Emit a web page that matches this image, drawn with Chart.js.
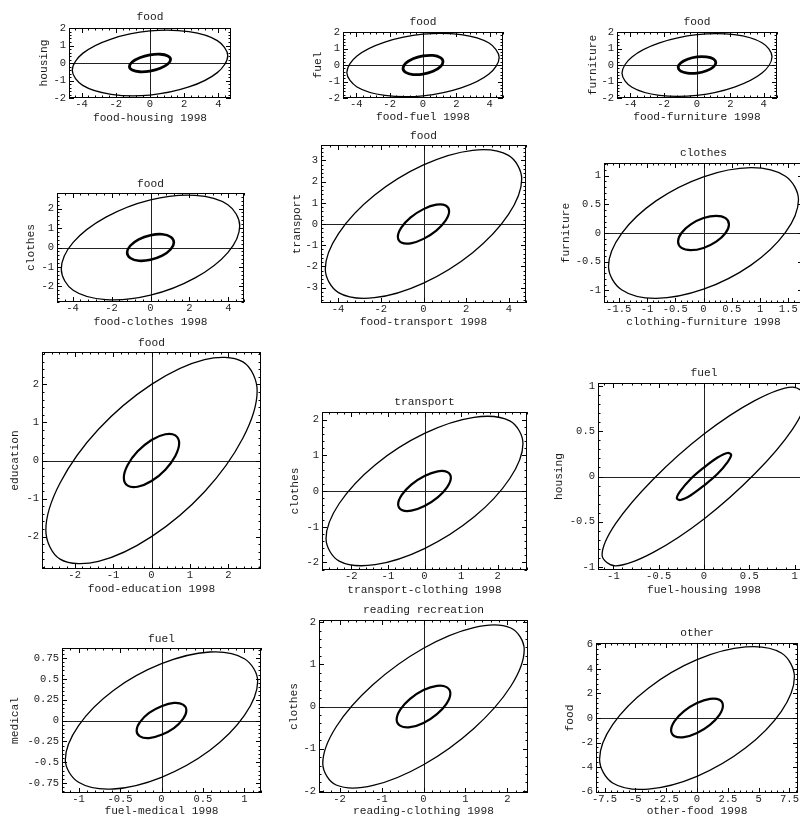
<!DOCTYPE html>
<html>
<head>
<meta charset="utf-8">
<title>1998 expenditure ellipses</title>
<script src="https://cdn.jsdelivr.net/npm/chart.js@4.4.1/dist/chart.umd.min.js"></script>
<style>
  html, body { margin: 0; padding: 0; background: #fff; }
  body { width: 800px; height: 819px; position: relative; overflow: hidden; }
  canvas { position: absolute; }
</style>
</head>
<body>
<script>
/**
 * Twelve ellipse panels, pairs of 1998 expenditure groups.
 */

// Panel texts
const panelTitles = ['food', 'food', 'food', 'food', 'food', 'clothes', 'food', 'transport', 'fuel', 'fuel', 'reading recreation', 'other'];
const xLabels = ['food-housing 1998', 'food-fuel 1998', 'food-furniture 1998', 'food-clothes 1998', 'food-transport 1998',
  'clothing-furniture 1998', 'food-education 1998', 'transport-clothing 1998', 'fuel-housing 1998', 'fuel-medical 1998',
  'reading-clothing 1998', 'other-food 1998'];
const yLabels = ['housing', 'fuel', 'furniture', 'clothes', 'transport', 'furniture', 'education', 'clothes', 'housing', 'medical', 'clothes', 'food'];

// Tick labels
const ticksFood = [-4, -2, 0, 2, 4];
const ticksTwo = [-2, -1, 0, 1, 2];
const ticksThree = [-3, -2, -1, 0, 1, 2, 3];
const ticksOneHalf = [-1.5, -1, -0.5, 0, 0.5, 1, 1.5];
const ticksOne = [-1, -0.5, 0, 0.5, 1];
const ticksQuarter = [-0.75, -0.5, -0.25, 0, 0.25, 0.5, 0.75];
const ticksOtherX = [-7.5, -5, -2.5, 0, 2.5, 5, 7.5];
const ticksOtherY = [-6, -4, -2, 0, 2, 4, 6];

// Ellipse outlines, points read around each curve [x, y]
const foodHousingOuter = [[4.54,0.42],[3.93,1.28],[2.27,1.79],[0,1.83],[-2.27,1.37],[-3.93,0.55],[-4.54,-0.42],[-3.93,-1.28],[-2.27,-1.79],[0,-1.83],[2.27,-1.37],[3.93,-0.55]];
const foodHousingInner = [[1.2,0.2],[1.04,0.4],[0.6,0.5],[0,0.46],[-0.6,0.3],[-1.04,0.06],[-1.2,-0.2],[-1.04,-0.4],[-0.6,-0.5],[0,-0.46],[0.6,-0.3],[1.04,-0.06]];
const foodFuelOuter = [[4.57,0.45],[3.96,1.33],[2.29,1.84],[0,1.87],[-2.29,1.39],[-3.96,0.55],[-4.57,-0.45],[-3.96,-1.33],[-2.29,-1.84],[0,-1.87],[2.29,-1.39],[3.96,-0.55]];
const foodFuelInner = [[1.2,0.2],[1.04,0.45],[0.6,0.58],[0,0.55],[-0.6,0.38],[-1.04,0.1],[-1.2,-0.2],[-1.04,-0.45],[-0.6,-0.58],[0,-0.55],[0.6,-0.38],[1.04,-0.1]];
const foodFurnitureOuter = [[4.5,0.5],[3.9,1.35],[2.25,1.84],[0,1.84],[-2.25,1.34],[-3.9,0.49],[-4.5,-0.5],[-3.9,-1.35],[-2.25,-1.84],[0,-1.84],[2.25,-1.34],[3.9,-0.49]];
const foodFurnitureInner = [[1.13,0.14],[0.98,0.37],[0.57,0.49],[0,0.49],[-0.57,0.35],[-0.98,0.12],[-1.13,-0.14],[-0.98,-0.37],[-0.57,-0.49],[0,-0.49],[0.57,-0.35],[0.98,-0.12]];
const foodClothesOuter = [[4.58,1.12],[3.97,2.2],[2.29,2.68],[0,2.45],[-2.29,1.56],[-3.97,0.26],[-4.58,-1.12],[-3.97,-2.2],[-2.29,-2.68],[0,-2.45],[2.29,-1.56],[3.97,-0.26]];
const foodClothesInner = [[1.2,0.26],[1.04,0.54],[0.6,0.68],[0,0.63],[-0.6,0.42],[-1.04,0.09],[-1.2,-0.26],[-1.04,-0.54],[-0.6,-0.68],[0,-0.63],[0.6,-0.42],[1.04,-0.09]];
const foodTransportOuter = [[4.6,2.12],[3.98,3.23],[2.3,3.47],[0,2.78],[-2.3,1.35],[-3.98,-0.45],[-4.6,-2.12],[-3.98,-3.23],[-2.3,-3.47],[0,-2.78],[2.3,-1.35],[3.98,0.45]];
const foodTransportInner = [[1.2,0.6],[1.04,0.87],[0.6,0.91],[0,0.7],[-0.6,0.31],[-1.04,-0.17],[-1.2,-0.6],[-1.04,-0.87],[-0.6,-0.91],[0,-0.7],[0.6,-0.31],[1.04,0.17]];
const clothingFurnitureOuter = [[1.68,0.58],[1.45,0.99],[0.84,1.14],[0,0.98],[-0.84,0.56],[-1.45,-0.01],[-1.68,-0.58],[-1.45,-0.99],[-0.84,-1.14],[0,-0.98],[0.84,-0.56],[1.45,0.01]];
const clothingFurnitureInner = [[0.45,0.15],[0.39,0.26],[0.225,0.3],[0,0.26],[-0.225,0.15],[-0.39,0],[-0.45,-0.15],[-0.39,-0.26],[-0.225,-0.3],[0,-0.26],[0.225,-0.15],[0.39,0]];
const foodEducationOuter = [[2.75,1.83],[2.38,2.59],[1.38,2.65],[0,2],[-1.38,0.82],[-2.38,-0.59],[-2.75,-1.83],[-2.38,-2.59],[-1.38,-2.65],[0,-2],[1.38,-0.82],[2.38,0.59]];
const foodEducationInner = [[0.72,0.45],[0.62,0.66],[0.36,0.69],[0,0.54],[-0.36,0.24],[-0.62,-0.12],[-0.72,-0.45],[-0.62,-0.66],[-0.36,-0.69],[0,-0.54],[0.36,-0.24],[0.62,0.12]];
const transportClothingOuter = [[2.69,1.33],[2.33,1.96],[1.35,2.06],[0,1.61],[-1.35,0.73],[-2.33,-0.35],[-2.69,-1.33],[-2.33,-1.96],[-1.35,-2.06],[0,-1.61],[1.35,-0.73],[2.33,0.35]];
const transportClothingInner = [[0.72,0.37],[0.62,0.53],[0.36,0.55],[0,0.42],[-0.36,0.18],[-0.62,-0.11],[-0.72,-0.37],[-0.62,-0.53],[-0.36,-0.55],[0,-0.42],[0.36,-0.18],[0.62,0.11]];
const fuelHousingOuter = [[1.125,0.87],[0.974,0.99],[0.56,0.84],[0,0.47],[-0.56,-0.03],[-0.974,-0.52],[-1.125,-0.87],[-0.974,-0.99],[-0.56,-0.84],[0,-0.47],[0.56,0.03],[0.974,0.52]];
const fuelHousingInner = [[0.3,0.24],[0.26,0.26],[0.15,0.21],[0,0.1],[-0.15,-0.03],[-0.26,-0.16],[-0.3,-0.24],[-0.26,-0.26],[-0.15,-0.21],[0,-0.1],[0.15,0.03],[0.26,0.16]];
const fuelMedicalOuter = [[1.16,0.47],[1.0,0.74],[0.58,0.82],[0,0.68],[-0.58,0.36],[-1.0,-0.06],[-1.16,-0.47],[-1.0,-0.74],[-0.58,-0.82],[0,-0.68],[0.58,-0.36],[1.0,0.06]];
const fuelMedicalInner = [[0.3,0.12],[0.26,0.19],[0.15,0.21],[0,0.17],[-0.15,0.09],[-0.26,-0.02],[-0.3,-0.12],[-0.26,-0.19],[-0.15,-0.21],[0,-0.17],[0.15,-0.09],[0.26,0.02]];
const readingClothingOuter = [[2.4,1.35],[2.08,1.86],[1.2,1.87],[0,1.38],[-1.2,0.52],[-2.08,-0.48],[-2.4,-1.35],[-2.08,-1.86],[-1.2,-1.87],[0,-1.38],[1.2,-0.52],[2.08,0.48]];
const readingClothingInner = [[0.64,0.31],[0.55,0.46],[0.32,0.49],[0,0.39],[-0.32,0.18],[-0.55,-0.07],[-0.64,-0.31],[-0.55,-0.46],[-0.32,-0.49],[0,-0.39],[0.32,-0.18],[0.55,0.07]];
const otherFoodOuter = [[7.9,3.36],[6.84,5.29],[3.95,5.79],[0,4.75],[-3.95,2.43],[-6.84,-0.54],[-7.9,-3.36],[-6.84,-5.29],[-3.95,-5.79],[0,-4.75],[3.95,-2.43],[6.84,0.54]];
const otherFoodInner = [[2.1,1.0],[1.82,1.48],[1.05,1.56],[0,1.22],[-1.05,0.56],[-1.82,-0.26],[-2.1,-1.0],[-1.82,-1.48],[-1.05,-1.56],[0,-1.22],[1.05,-0.56],[1.82,0.26]];

const panels = [
  { outer: foodHousingOuter, inner: foodHousingInner, xTicks: ticksFood, yTicks: ticksTwo },
  { outer: foodFuelOuter, inner: foodFuelInner, xTicks: ticksFood, yTicks: ticksTwo },
  { outer: foodFurnitureOuter, inner: foodFurnitureInner, xTicks: ticksFood, yTicks: ticksTwo },
  { outer: foodClothesOuter, inner: foodClothesInner, xTicks: ticksFood, yTicks: ticksTwo },
  { outer: foodTransportOuter, inner: foodTransportInner, xTicks: ticksFood, yTicks: ticksThree },
  { outer: clothingFurnitureOuter, inner: clothingFurnitureInner, xTicks: ticksOneHalf, yTicks: ticksOne },
  { outer: foodEducationOuter, inner: foodEducationInner, xTicks: ticksTwo, yTicks: ticksTwo },
  { outer: transportClothingOuter, inner: transportClothingInner, xTicks: ticksTwo, yTicks: ticksTwo },
  { outer: fuelHousingOuter, inner: fuelHousingInner, xTicks: ticksOne, yTicks: ticksOne },
  { outer: fuelMedicalOuter, inner: fuelMedicalInner, xTicks: ticksOne, yTicks: ticksQuarter },
  { outer: readingClothingOuter, inner: readingClothingInner, xTicks: ticksTwo, yTicks: ticksTwo },
  { outer: otherFoodOuter, inner: otherFoodInner, xTicks: ticksOtherX, yTicks: ticksOtherY },
];

// Page layout: plot box [left, top, right, bottom], half ranges, text positions, inner line width
const layout = [
  { box: [69, 28, 231, 98], xr: 4.73, yr: 2, titleY: 17, xLabelY: 118, yLabelX: 44, innerW: 2.8 },
  { box: [343, 32, 503, 98], xr: 4.8, yr: 2, titleY: 21.7, xLabelY: 117.5, yLabelX: 318, innerW: 2.8 },
  { box: [617, 32, 777, 98], xr: 4.8, yr: 2, titleY: 21.7, xLabelY: 117.5, yLabelX: 593, innerW: 2.8 },
  { box: [57, 193, 244, 302], xr: 4.8, yr: 2.8, titleY: 184.3, xLabelY: 322.5, yLabelX: 31, innerW: 2.6 },
  { box: [321, 145, 526, 303], xr: 4.8, yr: 3.72, titleY: 136, xLabelY: 322.5, yLabelX: 297.5, innerW: 2.2 },
  { box: [604, 163, 803, 303], xr: 1.76, yr: 1.22, titleY: 153.3, xLabelY: 322.5, yLabelX: 566, innerW: 2.2 },
  { box: [42, 352, 261, 569], xr: 2.85, yr: 2.85, titleY: 342.7, xLabelY: 589, yLabelX: 15, innerW: 2.2 },
  { box: [322, 412, 527, 570], xr: 2.8, yr: 2.21, titleY: 402.3, xLabelY: 590, yLabelX: 295, innerW: 2.2 },
  { box: [598, 383, 810, 570], xr: 1.17, yr: 1.035, titleY: 372.7, xLabelY: 590, yLabelX: 559, innerW: 2.2 },
  { box: [62, 648, 261, 793], xr: 1.2, yr: 0.868, titleY: 639, xLabelY: 811, yLabelX: 15, innerW: 2.2 },
  { box: [319, 620, 528, 793], xr: 2.49, yr: 2.05, titleY: 610, xLabelY: 811, yLabelX: 294, innerW: 2.2 },
  { box: [596, 643, 798, 793], xr: 8.19, yr: 6.11, titleY: 633.3, xLabelY: 811, yLabelX: 570, innerW: 2.2 },
];

const FONT = "'Liberation Mono', 'Courier New', monospace";
const INK = '#1c1c1c';
const tickFont = { family: FONT, size: 10.5, lineHeight: 1 };
const textFont = { family: FONT, size: 11.2, lineHeight: 1 };
const Y_AXIS_W = 64, TOP_H = 26, BOTTOM_H = 34, RIGHT_PAD = 6;

// close every outline into a smooth loop
const closeLoops = {
  id: 'closeLoops',
  afterDatasetsUpdate(chart) {
    chart.getSortedVisibleDatasetMetas().forEach(meta => {
      const line = meta.dataset;
      if (!line) return;
      line._loop = true;
      line._fullLoop = true;
      line._pointsUpdated = false;
      delete line._segments;
      delete line._path;
    });
  }
};

// frame, zero axes and inward ticks
const frameTicks = {
  id: 'frameTicks',
  beforeDatasetsDraw(chart) {
    const { ctx, chartArea: a, scales: { x, y } } = chart;
    const px = Math.round(x.getPixelForValue(0)) + 0.5;
    const py = Math.round(y.getPixelForValue(0)) + 0.5;
    ctx.save();
    ctx.strokeStyle = '#222';
    ctx.lineWidth = 1;
    ctx.beginPath();
    ctx.moveTo(px, a.top); ctx.lineTo(px, a.bottom);
    ctx.moveTo(a.left, py); ctx.lineTo(a.right, py);
    ctx.stroke();
    ctx.restore();
  },
  afterDraw(chart) {
    const { ctx, chartArea: a, scales: { x, y } } = chart;
    const opts = chart.options.plugins.frameTicks;
    ctx.save();
    ctx.strokeStyle = '#000';
    ctx.lineWidth = 1;
    ctx.strokeRect(a.left + 0.5, a.top + 0.5, a.right - a.left - 1, a.bottom - a.top - 1);
    ctx.beginPath();
    const marks = (scale, majors, horizontal) => {
      const step = majors[1] - majors[0];
      const minor = step / 5;
      const k0 = Math.ceil(scale.min / minor - 1e-6);
      const k1 = Math.floor(scale.max / minor + 1e-6);
      for (let k = k0; k <= k1; k++) {
        const len = (k % 5 === 0) ? 5 : 2.5;
        const p = Math.round(scale.getPixelForValue(k * minor)) + 0.5;
        if (horizontal) {
          ctx.moveTo(p, a.bottom); ctx.lineTo(p, a.bottom - len);
          ctx.moveTo(p, a.top); ctx.lineTo(p, a.top + len);
        } else {
          ctx.moveTo(a.left, p); ctx.lineTo(a.left + len, p);
          ctx.moveTo(a.right, p); ctx.lineTo(a.right - len, p);
        }
      }
    };
    marks(x, opts.xTicks, true);
    marks(y, opts.yTicks, false);
    ctx.stroke();
    ctx.restore();
  }
};

function toXY(pairs) {
  return pairs.map(([x, y]) => ({ x, y }));
}

panels.forEach((p, i) => {
  const L = layout[i];
  const [l, t, r, b] = L.box;
  const left = l - Y_AXIS_W, top = t - TOP_H;
  const width = (r - l) + Y_AXIS_W + RIGHT_PAD;
  const height = (b - t) + TOP_H + BOTTOM_H;

  const canvas = document.createElement('canvas');
  canvas.width = width;
  canvas.height = height;
  canvas.style.left = left + 'px';
  canvas.style.top = top + 'px';
  canvas.style.width = width + 'px';
  canvas.style.height = height + 'px';
  document.body.appendChild(canvas);

  const half = textFont.size / 2;

  new Chart(canvas, {
    type: 'line',
    data: {
      datasets: [
        { data: toXY(p.outer), xAxisID: 'x', yAxisID: 'y', borderColor: '#000', borderWidth: 1.3, tension: 0.35, pointRadius: 0, fill: false },
        { data: toXY(p.inner), xAxisID: 'x', yAxisID: 'y', borderColor: '#000', borderWidth: L.innerW, tension: 0.35, pointRadius: 0, fill: false },
      ],
    },
    options: {
      responsive: false,
      animation: false,
      devicePixelRatio: 1,
      events: [],
      layout: { padding: { left: 0, right: RIGHT_PAD, top: 0, bottom: 0 } },
      plugins: {
        legend: { display: false },
        tooltip: { enabled: false },
        title: { display: false },
        frameTicks: { xTicks: p.xTicks, yTicks: p.yTicks },
      },
      scales: {
        x: {
          type: 'linear', position: 'bottom', min: -L.xr, max: L.xr,
          grid: { display: false, drawTicks: false }, border: { display: false },
          afterBuildTicks: ax => { ax.ticks = p.xTicks.map(v => ({ value: v })); },
          afterFit: ax => { ax.height = BOTTOM_H; },
          ticks: { font: tickFont, color: INK, padding: 1, autoSkip: false, maxRotation: 0, minRotation: 0, callback: v => String(v) },
          title: { display: true, text: xLabels[i], font: textFont, color: INK, padding: { top: 0, bottom: (b + BOTTOM_H) - L.xLabelY - half } },
        },
        y: {
          type: 'linear', position: 'left', min: -L.yr, max: L.yr,
          grid: { display: false, drawTicks: false }, border: { display: false },
          afterBuildTicks: ax => { ax.ticks = p.yTicks.map(v => ({ value: v })); },
          afterFit: ax => { ax.width = Y_AXIS_W; },
          ticks: { font: tickFont, color: INK, padding: 3, autoSkip: false, callback: v => String(v) },
          title: { display: true, text: yLabels[i], font: textFont, color: INK, padding: { top: L.yLabelX - left - half, bottom: 0 } },
        },
        top: {
          axis: 'x', type: 'linear', position: 'top', min: 0, max: 1, display: true,
          grid: { display: false, drawTicks: false }, border: { display: false },
          ticks: { display: false },
          afterFit: ax => { ax.height = TOP_H; },
          title: { display: true, text: panelTitles[i], font: textFont, color: INK, padding: { top: L.titleY - top - half, bottom: 0 } },
        },
      },
    },
    plugins: [closeLoops, frameTicks],
  });
});
</script>
</body>
</html>
